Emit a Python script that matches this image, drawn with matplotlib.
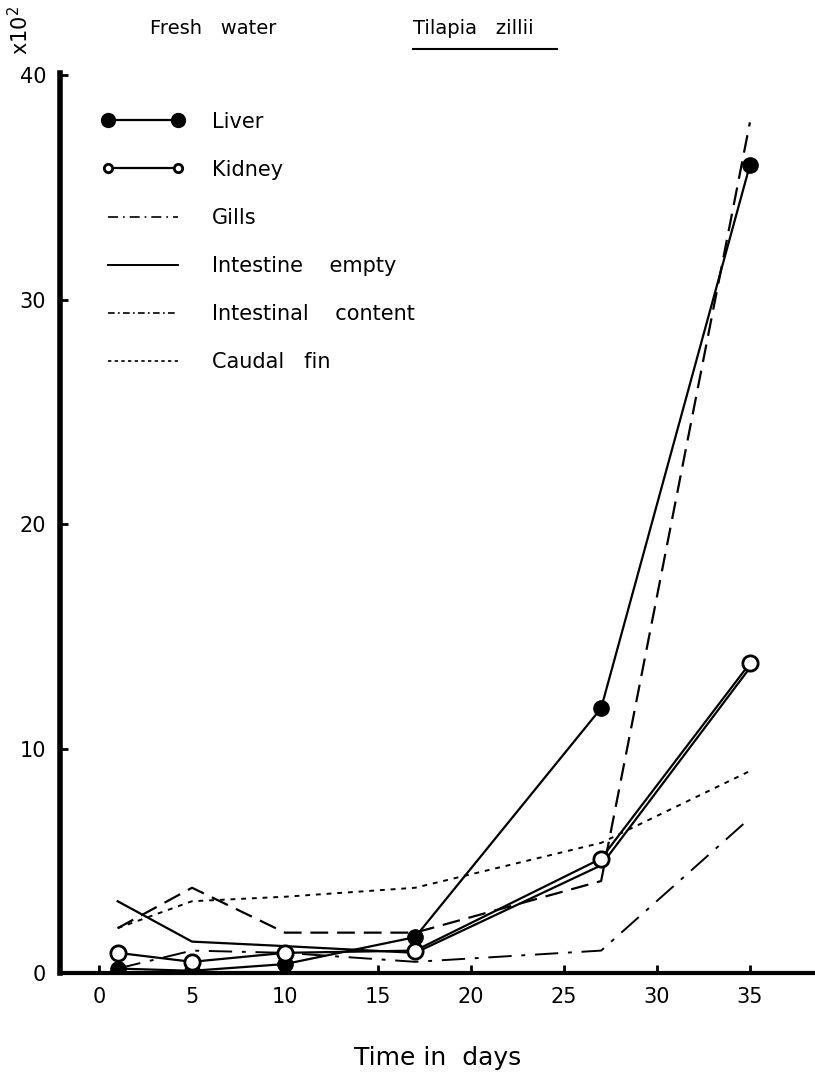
import matplotlib.pyplot as plt
from matplotlib.lines import Line2D

# days of sampling
days = [1, 5, 10, 17, 27, 35]

# activity (x10^2) per organ
liver = [0.2, 0.1, 0.4, 1.6, 11.8, 36.0]
kidney = [0.9, 0.5, 0.9, 1.0, 5.1, 13.8]
gills = [0.2, 1.0, 0.9, 0.5, 1.0, 6.9]
intestine_empty = [3.2, 1.4, 1.2, 0.9, 4.8, 13.6]
intestinal_content = [2.0, 3.8, 1.8, 1.8, 4.1, 37.9]
caudal_fin = [2.0, 3.2, 3.4, 3.8, 5.8, 9.0]

x_ticks = [0, 5, 10, 15, 20, 25, 30, 35]
y_ticks = [0, 10, 20, 30, 40]

plt.rcParams['font.family'] = ['DejaVu Sans']

fig = plt.figure(figsize=(8.15, 10.74), dpi=100)
ax = fig.add_axes([0.0736, 0.094, 0.9264, 0.838])

ax.plot(days, liver, color="black", lw=1.6, marker="o", ms=11,
        mfc="black", mec="black", zorder=5)
ax.plot(days, kidney, color="black", lw=1.6, marker="o", ms=11,
        mfc="white", mec="black", mew=2, zorder=6)
ax.plot(days, gills, color="black", lw=1.4, dashes=(12, 5, 2, 5))
ax.plot(days, intestine_empty, color="black", lw=1.6)
ax.plot(days, intestinal_content, color="black", lw=1.6, dashes=(8, 4))
ax.plot(days, caudal_fin, color="black", lw=1.4, dashes=(2.5, 3))

ax.set_xlim(-2.1, 38.5)
ax.set_ylim(0, 40.1)
ax.set_xticks(x_ticks)
ax.set_yticks(y_ticks)
ax.tick_params(direction="in", length=6, width=2, labelsize=15, pad=10)

for side in ["top", "right"]:
    ax.spines[side].set_visible(False)
ax.spines["left"].set_linewidth(4)
ax.spines["bottom"].set_linewidth(3)

ax.set_xlabel("Time in  days", fontsize=18, labelpad=28)

handles = [
    Line2D([], [], color="black", lw=1.6, marker="o", ms=10, mfc="black"),
    Line2D([], [], color="black", lw=1.6, marker="o", ms=6, mfc="white", mew=2),
    Line2D([], [], color="black", lw=1.2, dashes=(6, 3, 1, 3)),
    Line2D([], [], color="black", lw=1.4),
    Line2D([], [], color="black", lw=1.2, dashes=(4, 2, 1, 2)),
    Line2D([], [], color="black", lw=1.2, dashes=(2, 2)),
]
labels = ["Liver", "Kidney", "Gills", "Intestine    empty",
          "Intestinal    content", "Caudal   fin"]
ax.legend(handles, labels, loc="upper left", bbox_to_anchor=(0.03, 0.978),
          frameon=False, fontsize=15, numpoints=2, handlelength=4.0,
          handletextpad=1.3, labelspacing=1.35)

fig.text(20 / 815, 1 - 30 / 1074, r"x10$^2$", rotation=90, fontsize=15,
         ha="center", va="center")
fig.text(150 / 815, 1 - 28 / 1074, "Fresh   water", fontsize=14, va="center")
fig.text(413 / 815, 1 - 28 / 1074, "Tilapia   zillii", fontsize=14, va="center")
fig.add_artist(Line2D([413 / 815, 557 / 815], [1 - 49 / 1074, 1 - 49 / 1074],
                      color="black", lw=1.5))

plt.savefig("out.png", dpi=100)
plt.close()
